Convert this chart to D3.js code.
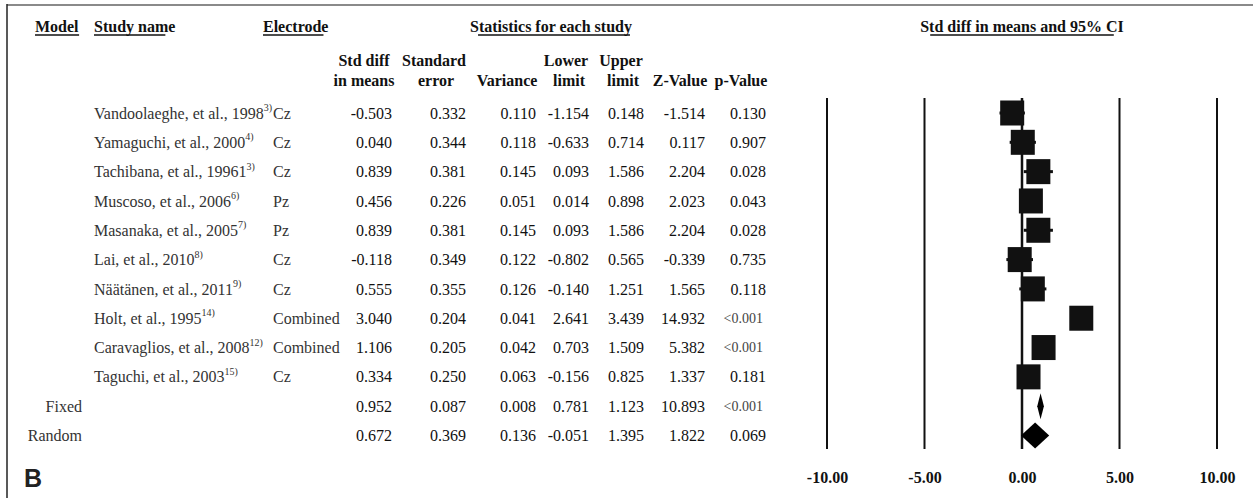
<!DOCTYPE html>
<html>
<head>
<meta charset="utf-8">
<script src="https://cdn.jsdelivr.net/npm/d3@7"></script>
<style>
  html, body { margin: 0; padding: 0; background: #fff; }
  svg { display: block; font-family: "Liberation Serif", "Times New Roman", serif; }
</style>
</head>
<body>
<svg id="chart" width="1253" height="498"></svg>
<script>
// ---- data ----
const modelLabels = ["", "", "", "", "", "", "", "", "", "", "Fixed", "Random"];
const studyNames = [
  "Vandoolaeghe, et al., 1998", "Yamaguchi, et al., 2000", "Tachibana, et al., 19961",
  "Muscoso, et al., 2006", "Masanaka, et al., 2005", "Lai, et al., 2010",
  "Näätänen, et al., 2011", "Holt, et al., 1995", "Caravaglios, et al., 2008",
  "Taguchi, et al., 2003", "", ""
];
const refMarks = ["3)", "4)", "3)", "6)", "7)", "8)", "9)", "14)", "12)", "15)", "", ""];
const electrodes = ["Cz", "Cz", "Cz", "Pz", "Pz", "Cz", "Cz", "Combined", "Combined", "Cz", "", ""];
const stdDiff   = [-0.503, 0.040, 0.839, 0.456, 0.839, -0.118, 0.555, 3.040, 1.106, 0.334, 0.952, 0.672];
const stdErr    = [0.332, 0.344, 0.381, 0.226, 0.381, 0.349, 0.355, 0.204, 0.205, 0.250, 0.087, 0.369];
const variance  = [0.110, 0.118, 0.145, 0.051, 0.145, 0.122, 0.126, 0.041, 0.042, 0.063, 0.008, 0.136];
const lowerLim  = [-1.154, -0.633, 0.093, 0.014, 0.093, -0.802, -0.140, 2.641, 0.703, -0.156, 0.781, -0.051];
const upperLim  = [0.148, 0.714, 1.586, 0.898, 1.586, 0.565, 1.251, 3.439, 1.509, 0.825, 1.123, 1.395];
const zValue    = [-1.514, 0.117, 2.204, 2.023, 2.204, -0.339, 1.565, 14.932, 5.382, 1.337, 10.893, 1.822];
const pValue    = ["0.130", "0.907", "0.028", "0.043", "0.028", "0.735", "0.118", "<0.001", "<0.001", "0.181", "<0.001", "0.069"];
const rowKind   = ["study", "study", "study", "study", "study", "study", "study", "study", "study", "study", "fixed", "random"];
const axisTicks = [-10, -5, 0, 5, 10];

// ---- layout ----
const svg = d3.select("#chart");
const x = d3.scaleLinear().domain([-10, 10]).range([827, 1217]);
const y = d3.scaleLinear().domain([0, stdDiff.length - 1]).range([113, 435.5]);
const rows = d3.range(stdDiff.length);
// plain hyphen for negative numbers
const locale = d3.formatLocale({ decimal: ".", thousands: ",", grouping: [3], currency: ["", ""], minus: "-" });
const fmt = locale.format(".3f");
const fmtTick = locale.format(".2f");
const numColor = "#111";
const nameColor = "#333";

// frame
svg.append("line").attr("x1", 7).attr("x2", 1253).attr("y1", 5).attr("y2", 5)
  .attr("stroke", "#8a8a8a").attr("stroke-width", 2);
svg.append("line").attr("x1", 7).attr("x2", 7).attr("y1", 4).attr("y2", 498)
  .attr("stroke", "#222").attr("stroke-width", 1.5);

// ---- headers ----
function header(txt, xp, yp, anchor, underline, inset) {
  const t = svg.append("text").attr("x", xp).attr("y", yp).attr("dy", "0.35em")
    .attr("text-anchor", anchor).attr("font-weight", "bold").attr("font-size", 16)
    .attr("fill", "#111").text(txt);
  if (underline) {
    const b = t.node().getBBox();
    const ins = inset || [0, 0];
    svg.append("line").attr("x1", b.x + ins[0]).attr("x2", b.x + b.width - ins[1])
      .attr("y1", yp + 9).attr("y2", yp + 9).attr("stroke", "#111").attr("stroke-width", 1.5);
  }
}
header("Model", 35, 26, "start", true);
header("Study name", 94, 26, "start", true, [0, 10]);
header("Electrode", 263, 26, "start", true, [0, 5]);
header("Statistics for each study", 551, 26, "middle", true, [8, 2]);
header("Std diff in means and 95% CI", 1022, 26, "middle", true, [10, 10]);

header("Std diff", 364, 60, "middle");
header("in means", 364, 80, "middle");
header("Standard", 434, 60, "middle");
header("error", 436, 80, "middle");
header("Variance", 507, 80, "middle");
header("Lower", 566, 60, "middle");
header("limit", 569, 80, "middle");
header("Upper", 621, 60, "middle");
header("limit", 623, 80, "middle");
header("Z-Value", 680, 80, "middle");
header("p-Value", 741, 80, "middle");

// ---- table body ----
const body = svg.append("g").attr("font-size", 16);

body.selectAll(".model").data(rows).join("text")
  .attr("x", 82).attr("y", i => y(i)).attr("dy", "0.35em")
  .attr("text-anchor", "end").attr("fill", nameColor)
  .text(i => modelLabels[i]);

const names = body.selectAll(".study").data(rows.filter(i => studyNames[i])).join("text")
  .attr("x", 94).attr("y", i => y(i)).attr("dy", "0.35em").attr("fill", nameColor);
names.append("tspan").text(i => studyNames[i]);
names.append("tspan").attr("font-size", 10).attr("dy", "-0.75em").text(i => refMarks[i]);

body.selectAll(".elec").data(rows).join("text")
  .attr("x", 273).attr("y", i => y(i)).attr("dy", "0.35em").attr("fill", nameColor)
  .text(i => electrodes[i]);

const numCols = [
  { vals: stdDiff, xr: 392 },
  { vals: stdErr, xr: 466 },
  { vals: variance, xr: 536 },
  { vals: lowerLim, xr: 589 },
  { vals: upperLim, xr: 644 },
  { vals: zValue, xr: 705 }
];
numCols.forEach(c => {
  body.append("g").selectAll("text").data(rows).join("text")
    .attr("x", c.xr).attr("y", i => y(i)).attr("dy", "0.35em")
    .attr("text-anchor", "end").attr("fill", numColor)
    .text(i => fmt(c.vals[i]));
});
body.append("g").selectAll("text").data(rows).join("text")
  .attr("x", i => pValue[i].startsWith("<") ? 763 : 766)
  .attr("y", i => y(i)).attr("dy", "0.35em")
  .attr("text-anchor", "end")
  .attr("font-size", i => pValue[i].startsWith("<") ? 14 : 16)
  .attr("fill", i => pValue[i].startsWith("<") ? "#444" : numColor)
  .text(i => pValue[i]);

// ---- forest plot ----
const plot = svg.append("g");
const yTop = 98, yBot = 449;

plot.selectAll(".grid").data(axisTicks).join("line")
  .attr("x1", d => x(d)).attr("x2", d => x(d))
  .attr("y1", yTop).attr("y2", yBot)
  .attr("stroke", "#111").attr("stroke-width", d => d === 0 ? 2.5 : 2);

const axis = d3.axisBottom(x).tickValues(axisTicks).tickSize(0).tickPadding(0)
  .tickFormat(fmtTick);
const axG = plot.append("g").attr("transform", "translate(0,472)").call(axis);
axG.select(".domain").remove();
axG.attr("font-family", null).attr("font-size", null);
axG.selectAll("text")
  .style("font-family", "'Liberation Serif', 'Times New Roman', serif")
  .attr("font-size", 16).attr("font-weight", "bold").attr("fill", "#111");

const studyRows = rows.filter(i => rowKind[i] === "study");
plot.selectAll(".ci").data(studyRows).join("line")
  .attr("x1", i => x(lowerLim[i])).attr("x2", i => x(upperLim[i]))
  .attr("y1", i => y(i)).attr("y2", i => y(i))
  .attr("stroke", "#111").attr("stroke-width", 3);

const boxW = 24, boxH = 25;
plot.selectAll(".box").data(studyRows).join("rect")
  .attr("x", i => x(stdDiff[i]) - boxW / 2).attr("y", i => y(i) - boxH / 2)
  .attr("width", boxW).attr("height", boxH).attr("fill", "#111");

const summaryRows = rows.filter(i => rowKind[i] !== "study");
plot.selectAll(".diamond").data(summaryRows).join("path")
  .attr("d", i => {
    const yc = y(i), h = 13;
    return `M${x(lowerLim[i])},${yc} L${x(stdDiff[i])},${yc - h} L${x(upperLim[i])},${yc} L${x(stdDiff[i])},${yc + h} Z`;
  })
  .attr("fill", "#000");

// panel letter
svg.append("text").attr("x", 24).attr("y", 478).attr("dy", "0.35em")
  .style("font-family", "'Liberation Sans', Arial, sans-serif")
  .attr("font-weight", "bold").attr("font-size", 25).attr("fill", "#222").text("B");
</script>
</body>
</html>
